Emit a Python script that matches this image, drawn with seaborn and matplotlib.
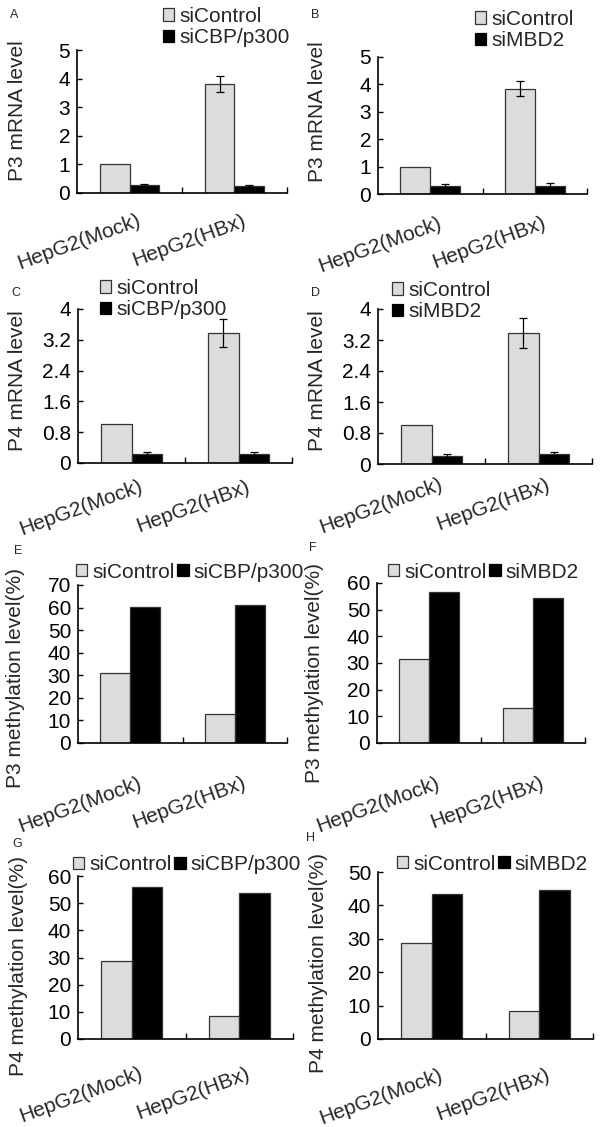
import matplotlib
matplotlib.use('Agg')
import matplotlib.pyplot as plt
from matplotlib.patches import Patch
from matplotlib.transforms import ScaledTranslation
import pandas as pd
import seaborn as sns

sns.set_style('ticks')
plt.rcParams['font.family'] = ['Liberation Sans', 'DejaVu Sans']

# data
cells = ['HepG2(Mock)', 'HepG2(HBx)']
ctrl_name = 'siControl'

a_ctrl = [1.0, 3.82]
a_ctrl_err = [0.0, 0.28]
a_kd = [0.28, 0.24]
a_kd_err = [0.03, 0.03]

b_ctrl = [1.0, 3.84]
b_ctrl_err = [0.0, 0.28]
b_kd = [0.28, 0.28]
b_kd_err = [0.08, 0.11]

c_ctrl = [1.0, 3.37]
c_ctrl_err = [0.0, 0.37]
c_kd = [0.23, 0.23]
c_kd_err = [0.06, 0.05]

d_ctrl = [1.0, 3.38]
d_ctrl_err = [0.0, 0.38]
d_kd = [0.2, 0.25]
d_kd_err = [0.05, 0.06]

e_ctrl = [31.0, 13.0]
e_kd = [60.2, 61.3]
f_ctrl = [31.4, 13.2]
f_kd = [56.6, 54.2]
g_ctrl = [28.6, 8.4]
g_kd = [55.9, 53.9]
h_ctrl = [28.6, 8.3]
h_kd = [43.5, 44.5]
no_err = [0.0, 0.0]

mrna_ticks_p3 = [0, 1, 2, 3, 4, 5]
mrna_labels_p3 = ['0', '1', '2', '3', '4', '5']
mrna_ticks_p4 = [0, 0.8, 1.6, 2.4, 3.2, 4.0]
mrna_labels_p4 = ['0', '0.8', '1.6', '2.4', '3.2', '4']
meth_ticks_70 = [0, 10, 20, 30, 40, 50, 60, 70]
meth_ticks_60 = [0, 10, 20, 30, 40, 50, 60]
meth_ticks_50 = [0, 10, 20, 30, 40, 50]

panels = [
    ('A', 'P3 mRNA level', 'siCBP/p300', a_ctrl, a_ctrl_err, a_kd, a_kd_err, mrna_ticks_p3, mrna_labels_p3),
    ('B', 'P3 mRNA level', 'siMBD2', b_ctrl, b_ctrl_err, b_kd, b_kd_err, mrna_ticks_p3, mrna_labels_p3),
    ('C', 'P4 mRNA level', 'siCBP/p300', c_ctrl, c_ctrl_err, c_kd, c_kd_err, mrna_ticks_p4, mrna_labels_p4),
    ('D', 'P4 mRNA level', 'siMBD2', d_ctrl, d_ctrl_err, d_kd, d_kd_err, mrna_ticks_p4, mrna_labels_p4),
    ('E', 'P3 methylation level(%)', 'siCBP/p300', e_ctrl, no_err, e_kd, no_err, meth_ticks_70, [str(t) for t in meth_ticks_70]),
    ('F', 'P3 methylation level(%)', 'siMBD2', f_ctrl, no_err, f_kd, no_err, meth_ticks_60, [str(t) for t in meth_ticks_60]),
    ('G', 'P4 methylation level(%)', 'siCBP/p300', g_ctrl, no_err, g_kd, no_err, meth_ticks_60, [str(t) for t in meth_ticks_60]),
    ('H', 'P4 methylation level(%)', 'siMBD2', h_ctrl, no_err, h_kd, no_err, meth_ticks_50, [str(t) for t in meth_ticks_50]),
]

# layout in pixels: axes box (left, right, top, bottom), legend anchor, legend columns,
# ylabel anchor, panel letter, x label pad
W, H = 600, 1127
layout = [
    dict(box=(77, 287, 50, 193), leg=(163, 27), ncol=1, ylab=(27, 111), let=(14, 15), pad=13),
    dict(box=(378, 587, 57, 194), leg=(475, 30), ncol=1, ylab=(327, 112), let=(315, 15), pad=14),
    dict(box=(78, 292, 309, 463), leg=(100, 299), ncol=1, ylab=(27, 381), let=(16, 293), pad=10),
    dict(box=(378, 592, 309, 464), leg=(392, 301), ncol=1, ylab=(327, 381), let=(315, 293), pad=8),
    dict(box=(78, 287, 585, 743), leg=(76, 572), ncol=2, ylab=(25, 678), let=(18, 551), pad=22),
    dict(box=(377, 585, 583, 743), leg=(388, 572), ncol=2, ylab=(324, 673), let=(313, 548), pad=22),
    dict(box=(78, 293, 876, 1039), leg=(73, 865), ncol=2, ylab=(28, 966), let=(17, 844), pad=18),
    dict(box=(378, 593, 872, 1039), leg=(397, 864), ncol=2, ylab=(328, 963), let=(310, 838), pad=19),
]

light = '#dcdcdc'
fig = plt.figure(figsize=(W / 100, H / 100), dpi=100)

for (letter, ylabel, kd_name, ctrl, ctrl_err, kd, kd_err, ticks, tlabels), lay in zip(panels, layout):
    l, r, t, b = lay['box']
    ax = fig.add_axes([l / W, 1 - b / H, (r - l) / W, (b - t) / H])

    df = pd.DataFrame({
        'cell': cells * 2,
        'group': [ctrl_name] * 2 + [kd_name] * 2,
        'value': ctrl + kd,
    })
    sns.barplot(data=df, x='cell', y='value', hue='group', hue_order=[ctrl_name, kd_name],
                palette=[light, 'black'], width=0.57, edgecolor='#333333', linewidth=0.9,
                errorbar=None, legend=False, ax=ax)

    for cont, vals, errs in zip(ax.containers, [ctrl, kd], [ctrl_err, kd_err]):
        xs = [bar.get_x() + bar.get_width() / 2 for bar in cont]
        keep = [i for i, e in enumerate(errs) if e > 0]
        if keep:
            ax.errorbar([xs[i] for i in keep], [vals[i] for i in keep], yerr=[errs[i] for i in keep],
                        fmt='none', ecolor='black', elinewidth=0.9, capsize=3.2, capthick=0.9, zorder=5)

    ax.set_xlim(-0.5, 1.5)
    ax.set_ylim(0, ticks[-1])
    ax.set_yticks(ticks)
    ax.set_yticklabels(tlabels)
    ax.set_xticks([0.5, 1.5], minor=True)
    ax.set_xlabel('')
    ax.set_ylabel(ylabel, fontsize=15)
    ax.yaxis.set_label_coords(lay['ylab'][0] / W, 1 - lay['ylab'][1] / H, transform=fig.transFigure)

    sns.despine(ax=ax)
    for s in ['left', 'bottom']:
        ax.spines[s].set_linewidth(1.2)
        ax.spines[s].set_color('black')
    ax.tick_params(axis='y', direction='in', length=3.5, width=1, pad=5, labelsize=15, colors='black')
    ax.tick_params(axis='x', which='major', length=0, pad=lay['pad'], labelsize=15)
    ax.tick_params(axis='x', which='minor', direction='in', length=4.5, width=1, color='black')

    shift = ScaledTranslation(0.07, 0, fig.dpi_scale_trans)
    for lbl in ax.get_xticklabels():
        lbl.set_rotation(20)
        lbl.set_ha('right')
        lbl.set_va('top')
        lbl.set_rotation_mode('anchor')
        lbl.set_transform(lbl.get_transform() + shift)

    handles = [Patch(facecolor=light, edgecolor='#333333', linewidth=0.9, label=ctrl_name),
               Patch(facecolor='black', edgecolor='black', linewidth=0.9, label=kd_name)]
    lx, ly = lay['leg']
    ax.legend(handles=handles, loc='center left', bbox_to_anchor=(lx / W, 1 - ly / H),
              bbox_transform=fig.transFigure, ncol=lay['ncol'], frameon=False, fontsize=15,
              borderpad=0, borderaxespad=0, handlelength=0.55, handleheight=0.55,
              handletextpad=0.25, labelspacing=0.12, columnspacing=0.1)

    fig.text(lay['let'][0] / W, 1 - lay['let'][1] / H, letter, fontsize=9, ha='center', va='center')

fig.savefig('out.png', dpi=100)
